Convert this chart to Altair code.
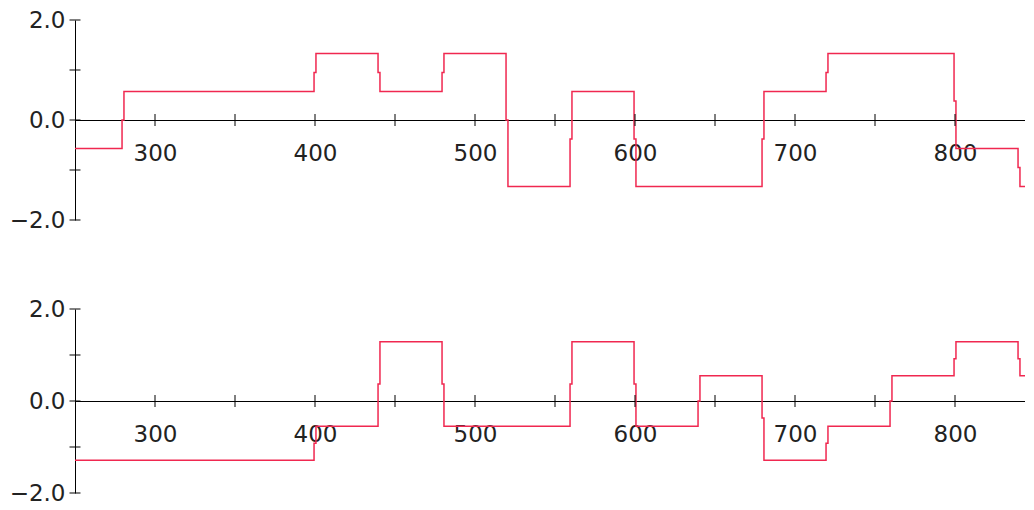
import altair as alt
import pandas as pd

# ---- data ----
x_start = 250
x_end = 850
x_view_end = 843.75

top_edges = [280, 400, 440, 480, 520, 560, 600, 680, 720, 800, 840]
top_levels = [-0.57, 0.57, 1.33, 0.57, 1.33, -1.33, 0.57, -1.33, 0.57, 1.33, -0.57, -1.33]
top_mids = [0.0, 0.95, 0.95, 0.95, 0.0, -0.38, -0.38, -0.38, 0.95, 0.38, -0.95]

bot_edges = [400, 440, 480, 560, 600, 640, 680, 720, 760, 800, 840]
bot_levels = [-1.29, -0.55, 1.29, -0.55, 1.29, -0.55, 0.55, -1.29, -0.55, 0.55, 1.29, 0.55]
bot_mids = [-0.92, 0.37, 0.37, 0.37, 0.37, 0.0, -0.37, -0.92, 0.0, 0.92, 0.92]

x_tick_values = [300, 350, 400, 450, 500, 550, 600, 650, 700, 750, 800]
x_label_values = [300, 400, 500, 600, 700, 800]
y_tick_values = [-2, -1, 0, 1, 2]
y_label_values = [-2, 0, 2]

LINE = "#F02850"
HALF = 0.6  # half-width of the one-sample transition value


def step_table(levels, edges, mids):
    xs = [x_start]
    ys = [levels[0]]
    for e, m, lv in zip(edges, mids, levels[1:]):
        xs += [e - HALF, e + HALF]
        ys += [m, lv]
    xs.append(x_end)
    ys.append(levels[-1])
    return pd.DataFrame({"x": xs, "y": ys, "order": list(range(len(xs)))})


def panel(df, h):
    xs = alt.Scale(domain=[x_start, x_view_end], nice=False, zero=False)
    ys = alt.Scale(domain=[-2, 2], nice=False, zero=False)
    x_axis = alt.Axis(values=x_label_values, format="d", offset=-h / 2,
                      ticks=False, grid=False, labelPadding=22,
                      labelFlush=False)
    y_axis = alt.Axis(values=y_label_values, format=".1f", ticks=False,
                      grid=False, labelPadding=10)
    line = alt.Chart(df).mark_line(
        interpolate="step-after", color=LINE, strokeWidth=1.5, clip=True
    ).encode(
        x=alt.X("x:Q", scale=xs, title=None, axis=x_axis),
        y=alt.Y("y:Q", scale=ys, title=None, axis=y_axis),
        order="order:Q",
    )
    xt = alt.Chart(pd.DataFrame({"t": x_tick_values})).mark_tick(
        orient="vertical", size=12, thickness=1, color="black", opacity=1
    ).encode(x=alt.X("t:Q", scale=xs, title=None, axis=x_axis), y=alt.datum(0))
    yt = alt.Chart(pd.DataFrame({"t": y_tick_values})).mark_tick(
        orient="horizontal", size=11, thickness=1, color="black", opacity=1
    ).encode(y=alt.Y("t:Q", scale=ys, title=None, axis=y_axis), x=alt.datum(x_start))
    return alt.layer(line, xt, yt).properties(width=950, height=h)


top = panel(step_table(top_levels, top_edges, top_mids), 200)
bottom = panel(step_table(bot_levels, bot_edges, bot_mids), 184)

chart = alt.vconcat(top, bottom, spacing=89, bounds="flush").properties(
    padding={"left": 1, "top": 1, "right": 0, "bottom": 0}
).configure_view(stroke=None).configure_axis(
    labelFont="DejaVu Sans", labelFontSize=23, labelColor="#222222",
    domainColor="black", domainWidth=1,
)

chart.save("out.html", embed_options={"renderer": "svg", "actions": False})
